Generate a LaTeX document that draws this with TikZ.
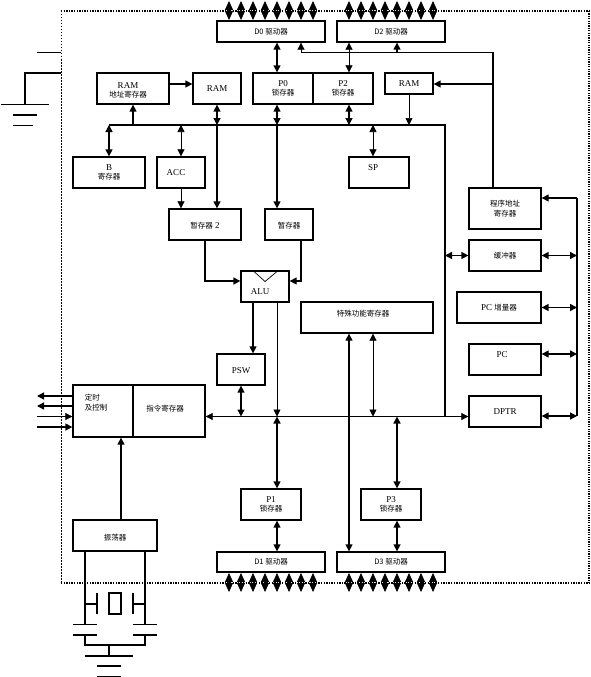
\documentclass[tikz,border=0pt]{standalone}
\usepackage{fontspec}
\setmainfont{Liberation Serif}
\newfontfamily\cjk{Noto Sans CJK SC}
\usetikzlibrary{arrows.meta,calc}
\tikzset{
  boxn/.style={draw=black,line width=1.3pt,inner sep=0pt,align=center,font=\fontsize{9}{10}\selectfont},
  txt/.style={inner sep=0pt,align=center,font=\fontsize{9}{10}\selectfont},
  thn/.style={line width=.7pt},
  thk/.style={line width=1.4pt},
  a2/.style={{Triangle[length=7pt,width=7pt]}-{Triangle[length=7pt,width=7pt]}},
  ae/.style={-{Triangle[length=7pt,width=7pt]}},
  pin2/.style={line width=.8pt,{Triangle[length=9pt,width=8pt]}-{Triangle[length=9pt,width=8pt]}},
}
\newcommand{\bx}[6]{\node[boxn,minimum width={(#4-#2)*1pt},minimum height={(#5-#3)*1pt}] (#1) at ({(#2+#4)/2},{(#3+#5)/2}) {#6};}
\newcommand{\zh}[1]{{\cjk\fontsize{7.5}{10}\selectfont #1}}
\begin{document}
\begin{tikzpicture}[x=1pt,y=-1pt]
\useasboundingbox (0,0) rectangle (590,677);
\fill[white] (0,0) rectangle (590,677);
% chip frame
\draw[line width=1.3pt,dash pattern=on 1.3pt off 1.3pt] (61,11) -- (589,11);
\draw[line width=1.3pt,dash pattern=on 1.3pt off 1.3pt] (61,583) -- (589,583);
\draw[line width=1pt,dash pattern=on 1.5pt off 1.5pt] (61,11) -- (61,583);
\draw[line width=1.1pt,dash pattern=on 1.2pt off 1.2pt] (589,11) -- (589,583);
% boxes
\bx{d0}{217}{21}{325}{42}{\zh{D0 驱动器}}
\bx{d2}{337}{21}{445}{42}{\zh{D2 驱动器}}
\bx{ramaddr}{97}{73}{169}{104}{}
\bx{ram}{193}{73}{241}{104}{RAM}
\bx{pzero}{253}{73}{313}{104}{P0\\[-1pt]\zh{锁存器}}
\bx{ptwo}{313}{73}{373}{104}{P2\\[-1pt]\zh{锁存器}}
\draw[white,line width=1.6pt] ([yshift=.7pt]pzero.north east) -- ([yshift=-.7pt]pzero.south east);
\draw[thn] (pzero.north east) -- (pzero.south east);
\bx{ramb}{385}{73}{433}{94}{RAM}
\bx{bb}{73}{157}{145}{188}{B\\[-1pt]\zh{寄存器}}
\bx{acc}{157}{157}{205}{188}{}
\bx{sp}{349}{157}{409}{188}{}
\bx{tmpa}{169}{209}{241}{240}{}
\bx{tmpb}{265}{209}{313}{240}{}
\bx{prog}{469}{188}{541}{229}{\zh{程序地址}\\\zh{寄存器}}
\bx{buf}{469}{240}{541}{271}{\zh{缓冲器}}
\bx{pcinc}{457}{292}{541}{323}{PC \zh{增量器}}
\bx{pc}{469}{344}{541}{375}{}
\bx{dptr}{469}{396}{541}{427}{DPTR}
\bx{alu}{241}{271}{289}{302}{}
\bx{psw}{217}{354}{265}{385}{}
\bx{sfr}{301}{302}{433}{333}{}
\bx{ctrl}{73}{385}{133}{437}{}
\bx{instr}{133}{385}{205}{437}{}
\bx{osc}{73}{520}{157}{551}{}
\bx{pone}{241}{489}{301}{520}{P1\\[-1pt]\zh{锁存器}}
\bx{pthree}{361}{489}{421}{520}{P3\\[-1pt]\zh{锁存器}}
\bx{done}{217}{552}{325}{572}{\zh{D1 驱动器}}
\bx{dthree}{337}{552}{445}{572}{\zh{D3 驱动器}}
% offset labels
\node[txt] (lramaddr) at (128,90) {RAM\\[-1pt]\zh{地址寄存器}};
\node[txt] (lacc) at (176,173) {ACC};
\node[txt] (lsp) at (373,168) {SP};
\node[txt] (ltmpa) at (205,226) {\zh{暂存器} 2};
\node[txt] (ltmpb) at (289,226) {\zh{暂存器}};
\node[txt] (lpc) at (502,355) {PC};
\node[txt] (lalu) at (260,292) {ALU};
\node[txt] (lpsw) at (241,371) {PSW};
\node[txt] (lsfr) at (363,314) {\zh{特殊功能寄存器}};
\node[txt,align=left] (lctrl) at (96,403) {\zh{定时}\\\zh{及控制}};
\node[txt] (linstr) at (165,409) {\zh{指令寄存器}};
\node[txt] (losc) at (115,538) {\zh{振荡器}};
% pins
\foreach \x in {229,241,...,313}{\draw[pin2] (\x,1) -- (\x,20);\draw[pin2] (\x,573) -- (\x,592);}
\foreach \x in {349,361,...,433}{\draw[pin2] (\x,1) -- (\x,20);\draw[pin2] (\x,573) -- (\x,592);}
% bus junctions
\coordinate (busl) at (109,125);
\coordinate (busr) at (445,125);
\coordinate (busb) at (445,416.5);
\coordinate (lowr) at (205,416.5);
\coordinate (j133) at (133,125);
\coordinate (j181) at (181,125);
\coordinate (j217) at (217,125);
\coordinate (j277) at (277,125);
\coordinate (j349) at (349,125);
\coordinate (j373) at (373,125);
\coordinate (j409) at (409,125);
\coordinate (k241) at (241,416.5);
\coordinate (k277) at (277,416.5);
\coordinate (k373) at (373,416.5);
\coordinate (k397) at (397,416.5);
\coordinate (top301) at (301,52);
\coordinate (top397) at (397,52);
\coordinate (top493) at (493,52);
\coordinate (m493) at (493,84);
\coordinate (x349) at (349,300);
\coordinate (x397) at (397,460);
% buses
\draw[thk] (busl) -- (busr) -- (busb);
\draw[thn,{Triangle[length=7pt,width=7pt]}-] (instr.east |- lowr) -- (busb);
\draw[thn,ae] (busb) -- (dptr.west |- busb);
% upper connectors
\draw[thk,ae] (ramaddr.east |- 0,84) -- (ram.west |- 0,84);
\draw[thk,ae] (j133) -- (ramaddr.south -| j133);
\draw[thk,a2] (busl) -- (bb.north -| busl);
\draw[thn,a2] (j181) -- (acc.north -| j181);
\draw[thn,ae] (acc.south -| j181) -- (tmpa.north -| j181);
\draw[thk,a2] (ram.south -| j217) -- (j217);
\draw[thk,ae] (j217) -- (tmpa.north -| j217);
\draw[thk,a2] (pzero.south -| j277) -- (j277);
\draw[thk,ae] (j277) -- (tmpb.north -| j277);
\draw[thk,a2] (d0.south -| j277) -- (pzero.north -| j277);
\draw[thn,a2] (d2.south -| j349) -- (ptwo.north -| j349);
\draw[thk,a2] (ptwo.south -| j349) -- (j349);
\draw[thn,a2] (j373) -- (sp.north -| j373);
\draw[thn,ae] (ramb.south -| j409) -- (j409);
% program address lines
\draw[thn] (top301) -- (top493);
\draw[thk] (top493) -- (prog.north -| top493);
\draw[thn,ae] (top301) -- (d0.south -| top301);
\draw[thk,ae] (top397) -- (d2.south -| top397);
\draw[thk,ae] (m493) -- (ramb.east |- m493);
% ALU
\draw[thk,ae] (tmpa.south -| 205,0) |- (alu.west |- 0,281);
\draw[thk,ae] (tmpb.south -| 301,0) |- (alu.east |- 0,281);
\draw[thn] (254,271.5) -- (265,281.5) -- (277,271.5);
\draw[thk,ae] (alu.south -| 253,0) -- (psw.north -| 253,0);
\draw[thn,ae] (alu.south -| k277) -- (k277);
\draw[thk,a2] (psw.south -| k241) -- (k241);
% lower connectors
\draw[thk,a2] (k277) -- (pone.north -| k277);
\draw[thk,a2] (pone.south -| k277) -- (done.north -| k277);
\draw[thk,a2] (sfr.south -| x349) -- (dthree.north -| x349);
\draw[thn,a2] (sfr.south -| k373) -- (k373);
\draw[thk,a2] (k397) -- (pthree.north -| k397);
\draw[thk,a2] (pthree.south -| k397) -- (dthree.north -| k397);
% right bus
\coordinate (rt) at (577,198);
\coordinate (rb) at (577,416);
\draw[thk] (rb) -- (rt);
\draw[thk,ae] (rt) -- (prog.east |- rt);
\draw[thk,a2] (buf.east) -- (buf.east -| rt);
\draw[thk,a2] (pcinc.east) -- (pcinc.east -| rt);
\draw[thk,a2] (pc.east |- 0,354) -- (rt |- 0,354);
\draw[thk,a2] (dptr.east |- rb) -- (rb);
\draw[thk,a2] (busr |- buf.west) -- (buf.west);
% control lines
\coordinate (ca) at (37,396);
\coordinate (cb) at (37,406);
\coordinate (cc) at (37,416.5);
\coordinate (cd) at (37,427);
\draw[thk,ae] (ctrl.west |- ca) -- (ca);
\draw[thk,ae] (ctrl.west |- cb) -- (cb);
\draw[thn,ae] (cc) -- (ctrl.west |- cc);
\draw[thk,ae] (cd) -- (ctrl.west |- cd);
\draw[thk,ae] (osc.north -| 121,0) -- (ctrl.south -| 121,0);
% power pins
\coordinate (vcc) at (37,52);
\coordinate (gnd) at (25,73);
\coordinate (gnb) at (25,104);
\draw[thn] (vcc) -- (61,52);
\draw[thk] (61,73) -- (gnd) -- (gnb);
\draw[thn] (1,104) -- (49,104);
\draw[line width=1.4pt] (13,115) -- (37,115);
\draw[thn] (13,125) -- (33,125);
% oscillator circuit
\coordinate (ol) at (85,624);
\coordinate (or) at (145,624);
\draw[thk] (osc.south -| ol) -- (ol);
\draw[thk] (osc.south -| or) -- (or);
\draw[thk] (85,604) -- (97,604);
\draw[thk] (145,604) -- (133,604);
\draw[thk] (97,593) -- (97,614);
\draw[thk] (133,593) -- (133,614);
\draw[thk] (109,593) rectangle (121,614);
\draw[thn] (73,624) -- (97,624);
\draw[thn] (133,624) -- (157,624);
\draw[thk] (73,635) -- (97,635);
\draw[thk] (133,635) -- (157,635);
\draw[thk] (85,635) -- (85,645) -- (145,645) -- (145,635);
\draw[thk] (109,645) -- (109,656);
\draw[thk] (85,656) -- (133,656);
\draw[thk] (97,666) -- (121,666);
\draw[thn] (97,676) -- (121,676);
\end{tikzpicture}
\end{document}
